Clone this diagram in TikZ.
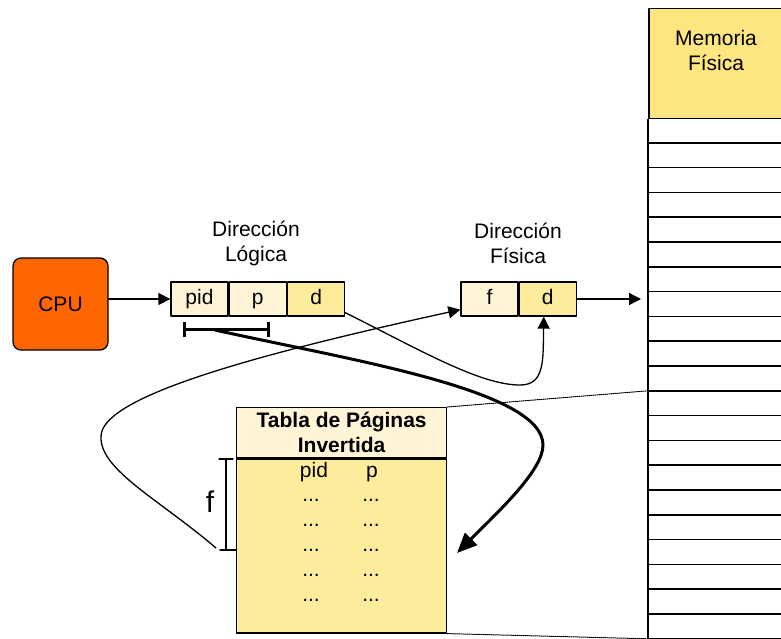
\documentclass[tikz,border=0pt]{standalone}
\usepackage{fontspec}
\setmainfont{Liberation Sans}
\usetikzlibrary{arrows.meta,positioning}

\begin{document}
\begin{tikzpicture}[x=1pt, y=-1pt, line cap=round, line join=round, font=\fontsize{21}{25}\selectfont]
  \definecolor{Ink}{HTML}{000000}
  \definecolor{CpuOrange}{HTML}{FF6600}
  \definecolor{Cream}{HTML}{FFF5D6}
  \definecolor{Straw}{HTML}{FDEC9B}
  \definecolor{MemGold}{HTML}{FDE680}

  \tikzset{
    cell/.style={draw=Ink, line width=1.3pt, minimum width=57pt, minimum height=34pt, inner sep=0pt, text height=15pt, text depth=4.4pt},
    lbl/.style={align=center, inner sep=0pt},
    conn/.style={draw=Ink, line width=1.3pt, -{Triangle[length=12pt,width=12pt]}},
    bold conn/.style={draw=Ink, line width=3pt, -{Triangle[length=20pt,width=17pt]}},
    hint/.style={draw=Ink, line width=1pt, densely dotted},
    tick/.style={draw=Ink, line width=1.3pt}
  }

  \useasboundingbox (0,0) rectangle (781,639);
  \clip (0,0) rectangle (781,639);

  % CPU and logical address
  \node[draw=Ink, line width=1.3pt, fill=CpuOrange, rounded corners=8pt, minimum width=95pt, minimum height=92pt] (cpu) at (60.5,304) {CPU};
  \node[cell, fill=Cream] (lpid) at (199.5,299) {pid};
  \node[cell, fill=Cream, right=0pt of lpid] (lp) {p};
  \node[cell, fill=Straw, right=0pt of lp] (ld) {d};
  \node[lbl] (laddr) at (256,243) {Dirección\\Lógica};

  % bracket under pid and p
  \coordinate (bl) at (184,329);
  \coordinate (br) at (268,329);
  \coordinate (bsrc) at (215,330);
  \draw[Ink, line width=3pt, line cap=butt] (bl) -- (br);
  \draw[Ink, line width=3pt, line cap=butt] ([yshift=7pt]bl) -- ([yshift=-8pt]bl);
  \draw[Ink, line width=3pt, line cap=butt] ([yshift=7pt]br) -- ([yshift=-8pt]br);

  % physical address
  \node[cell, fill=Cream] (pf) at (489.5,299) {f};
  \node[cell, fill=Straw, right=0pt of pf] (pd) {d};
  \node[lbl] (paddr) at (518,243) {Dirección\\Física};

  % physical memory
  \node[draw=Ink, line width=1.5pt, fill=MemGold, minimum width=136pt, minimum height=110pt, inner sep=0pt, anchor=north west] (memhead) at (648,8) {};
  \node[lbl] (memlbl) at (716,50) {Memoria\\Física};
  \draw[Ink, line width=1.5pt] (memhead.south west) -- (648,660);
  \foreach \k in {1,...,21}
    \draw[Ink, line width=1.5pt] (648,{118+24.8*\k}) -- (784,{118+24.8*\k});
  \coordinate (frame) at (641,299);
  \coordinate (fr11) at (648,{118+24.8*11});
  \coordinate (fr21) at (648,{118+24.8*21});

  % inverted page table
  \node[draw=Ink, line width=1.3pt, fill=Cream, minimum width=210pt, minimum height=50pt, inner sep=0pt, anchor=north west, align=center, font=\fontsize{21}{25}\selectfont\bfseries] (tabhead) at (236,407) {Tabla de Páginas\\Invertida};
  \node[draw=Ink, line width=1.3pt, fill=Straw, minimum width=210pt, minimum height=174pt, inner sep=0pt, anchor=north] (tabbody) at (tabhead.south) {};
  \node[anchor=base, inner sep=0pt] (hpid) at (314,477) {pid};
  \node[anchor=base, inner sep=0pt] (hp) at (372,477) {p};
  \foreach \y [count=\i] in {501,526,551,576,601} {
    \node[anchor=base, inner sep=0pt] (dpid\i) at (311,\y) {...};
    \node[anchor=base, inner sep=0pt] (dp\i) at (371,\y) {...};
  }

  % frame index f
  \coordinate (ftop) at (226,459);
  \coordinate (fbot) at (226,550);
  \coordinate (fsrc) at (216,548);
  \draw[tick] (ftop) -- (fbot);
  \draw[tick] ([xshift=-7pt]ftop) -- ([xshift=7pt]ftop);
  \draw[tick] ([xshift=-6pt]fbot) -- ([xshift=10pt]fbot);
  \node[font=\fontsize{30}{36}\selectfont, inner sep=0pt] (flbl) at (210,502) {f};

  % connectors
  \draw[conn] (cpu.east |- lpid.west) -- (lpid.west);
  \draw[conn] (pd.east) -- (frame);
  \draw[conn] ([yshift=4pt]ld.south east) .. controls (420,350) and (480,385) .. (520,385)
    .. controls (545,385) and (543,360) .. ([xshift=-4pt]pd.south);
  \draw[conn] (fsrc) .. controls (160,500) and (100,470) .. (101,437)
    .. controls (100,400) and (230,360) .. ([yshift=7pt]pf.south west);
  \coordinate (tabhit) at (457,553);
  \draw[bold conn] (bsrc) .. controls (350,360) and (543,390) .. (543,445)
    .. controls (543,470) and (500,510) .. (tabhit);
  \draw[hint] (tabhead.north east) -- (fr11);
  \draw[hint] (tabbody.south east) -- (fr21);
\end{tikzpicture}
\end{document}
